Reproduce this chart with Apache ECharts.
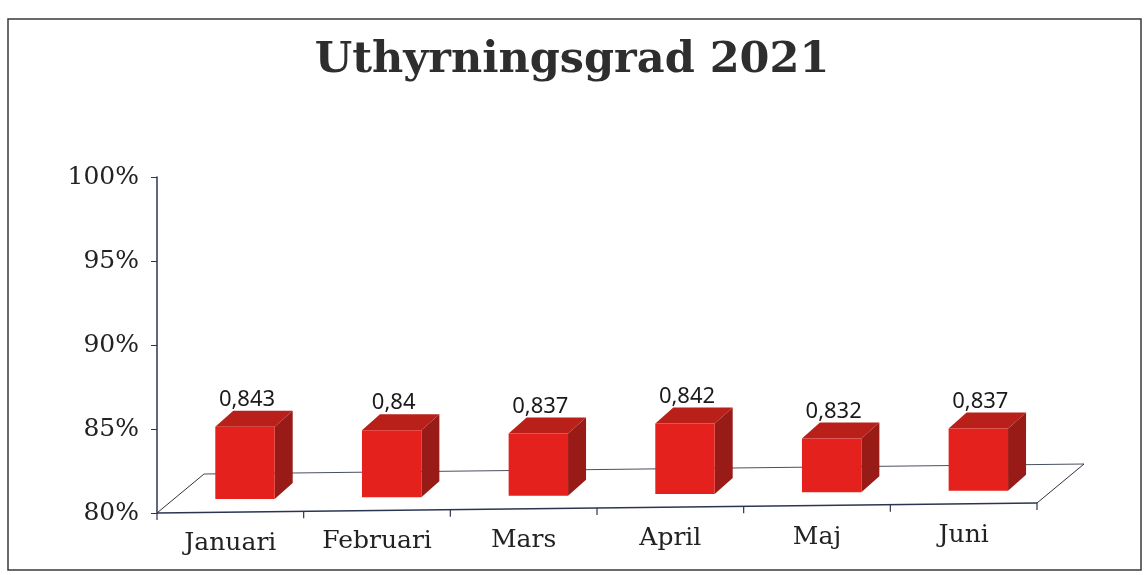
<!DOCTYPE html>
<html>
<head>
<meta charset="utf-8">
<script src="https://cdn.jsdelivr.net/npm/echarts@6/dist/echarts.min.js"></script>
<style>
  html, body { margin: 0; padding: 0; background: #ffffff; }
  #chart { width: 1144px; height: 575px; }
</style>
</head>
<body>
<div id="chart"></div>
<script>
// ---- data ----
const titleText = 'Uthyrningsgrad 2021';
const categories = ['Januari', 'Februari', 'Mars', 'April', 'Maj', 'Juni'];
const values = [0.843, 0.84, 0.837, 0.842, 0.832, 0.837];
const valueLabels = ['0,843', '0,84', '0,837', '0,842', '0,832', '0,837'];
const yMin = 0.8, yMax = 1.0, yStep = 0.05;

// ---- styling constants ----
const FRONT = '#e4211c', TOP = '#b82019', SIDE = '#981b17';
const SLANT = 10;          // how much the floor's front edge rises left->right
const DEPTH = [47, -39];   // floor depth vector
const serif = '"DejaVu Serif", "Liberation Serif", serif';

const chart = echarts.init(document.getElementById('chart'), null, { renderer: 'canvas' });

function floorFrontY(cs, x) {
  return cs.y + cs.height - (x - cs.x) / cs.width * SLANT;
}

const option = {
  backgroundColor: '#ffffff',
  animation: false,
  title: {
    text: titleText,
    left: 'center',
    top: 34,
    textStyle: { fontFamily: serif, fontWeight: 'bold', fontSize: 43, color: '#2e2e2e' }
  },
  graphic: [{
    type: 'rect',
    shape: { x: 8, y: 19, width: 1133, height: 551 },
    style: { fill: 'none', stroke: '#3a3a3a', lineWidth: 1.5 },
    silent: true, z: -10
  }],
  grid: { left: 157, right: 107, top: 177, bottom: 62 },
  xAxis: {
    type: 'category',
    data: categories.map((c, i) => ({
      value: c,
      textStyle: { padding: [Math.round((categories.length - 1 - i) * 1.6), 0, 0, 0] }
    })),
    axisLine: { show: false },
    axisTick: { show: false },
    axisLabel: { interval: 0, margin: 10, fontFamily: serif, fontSize: 25, color: '#222' },
    splitLine: { show: false }
  },
  yAxis: {
    type: 'value',
    min: yMin, max: yMax, interval: yStep,
    axisLine: { show: true, lineStyle: { color: '#2c3550', width: 1.5 } },
    axisTick: { show: true, length: 6, lineStyle: { color: '#2c3550' } },
    axisLabel: {
      margin: 18, fontFamily: serif, fontSize: 25, color: '#222',
      padding: [4, 0, 0, 0],
      formatter: v => Math.round(v * 100) + '%'
    },
    splitLine: { show: false }
  },
  series: [
    {
      // floor + slanted front axis line with ticks
      type: 'custom',
      silent: true,
      z: 1,
      data: [0],
      renderItem: function (params, api) {
        const cs = params.coordSys;
        const fl = [cs.x, floorFrontY(cs, cs.x)];
        const fr = [cs.x + cs.width, floorFrontY(cs, cs.x + cs.width)];
        const bl = [fl[0] + DEPTH[0], fl[1] + DEPTH[1]];
        const br = [fr[0] + DEPTH[0], fr[1] + DEPTH[1]];
        const children = [
          { type: 'line', shape: { x1: fl[0], y1: fl[1], x2: bl[0], y2: bl[1] }, style: { stroke: '#333', lineWidth: 1 } },
          { type: 'line', shape: { x1: bl[0], y1: bl[1], x2: br[0], y2: br[1] }, style: { stroke: '#4a5060', lineWidth: 1 } },
          { type: 'line', shape: { x1: br[0], y1: br[1], x2: fr[0], y2: fr[1] }, style: { stroke: '#333', lineWidth: 1 } },
          { type: 'line', shape: { x1: fl[0], y1: fl[1], x2: fr[0], y2: fr[1] }, style: { stroke: '#2c3550', lineWidth: 1.5 } }
        ];
        const band = api.size([1, 0])[0];
        for (let i = 0; i <= categories.length; i++) {
          const x = cs.x + i * band;
          const y = floorFrontY(cs, x);
          children.push({ type: 'line', shape: { x1: x, y1: y, x2: x, y2: y + 7 }, style: { stroke: '#2c3550', lineWidth: 1.2 } });
        }
        return { type: 'group', children: children };
      }
    },
    {
      // 3D boxes
      type: 'custom',
      z: 5,
      data: values.map((v, i) => [i, v]),
      encode: { x: 0, y: 1 },
      renderItem: function (params, api) {
        const cs = params.coordSys;
        const idx = api.value(0), v = api.value(1);
        const topPt = api.coord([idx, v]);
        const basePt = api.coord([idx, yMin]);
        const band = api.size([1, 0])[0];
        const w = band * 0.405;
        const h = basePt[1] - topPt[1];
        const cx = basePt[0] + band * 0.1;
        const x0 = cx - w / 2, x1 = cx + w / 2;
        const yb = floorFrontY(cs, cx) - 13;
        const yt = yb - h;
        const dx = 18, dy = -16;
        return {
          type: 'group',
          children: [
            { type: 'polygon', shape: { points: [[x1, yt], [x1 + dx, yt + dy], [x1 + dx, yb + dy], [x1, yb]] }, style: { fill: SIDE } },
            { type: 'polygon', shape: { points: [[x0, yt], [x0 + dx, yt + dy], [x1 + dx, yt + dy], [x1, yt]] }, style: { fill: TOP } },
            { type: 'rect', shape: { x: x0, y: yt, width: w, height: yb - yt }, style: { fill: FRONT } },
            {
              type: 'text',
              style: {
                text: valueLabels[params.dataIndex],
                x: cx + 2, y: yt + dy,
                align: 'center', verticalAlign: 'bottom',
                font: '22px "Noto Sans", "Open Sans", sans-serif',
                fill: '#1a1a1a'
              }
            }
          ]
        };
      }
    }
  ]
};
chart.setOption(option);
</script>
</body>
</html>
